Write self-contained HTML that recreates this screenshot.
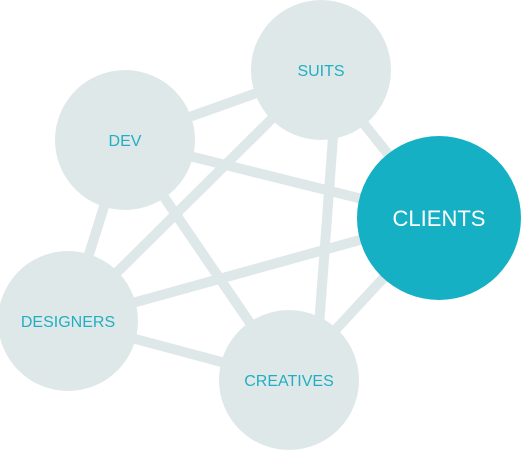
<!DOCTYPE html>
<html><head><style>
html,body{margin:0;padding:0;background:#fff;}
svg{display:block;}
text{font-family:"Liberation Sans",sans-serif;}
</style></head><body>
<svg width="521" height="451" viewBox="0 0 521 451" xmlns="http://www.w3.org/2000/svg">
<g stroke="#dfe8e8" stroke-width="10">
<line x1="321" y1="70" x2="125" y2="140"/>
<line x1="321" y1="70" x2="439" y2="218"/>
<line x1="321" y1="70" x2="68" y2="321"/>
<line x1="338" y1="70" x2="315" y2="380"/>
<line x1="125" y1="140" x2="439" y2="218"/>
<line x1="125" y1="140" x2="68" y2="321"/>
<line x1="125" y1="140" x2="289" y2="380"/>
<line x1="68" y1="321" x2="439" y2="218"/>
<line x1="68" y1="321" x2="289" y2="380"/>
<line x1="289" y1="380" x2="439" y2="218"/>
</g>
<g fill="#dfe8e8">
<circle cx="321" cy="70" r="70"/>
<circle cx="125" cy="140" r="70"/>
<circle cx="68" cy="321" r="70"/>
<circle cx="289" cy="380" r="70"/>
</g>
<circle cx="439" cy="218" r="82" fill="#15b0c4"/>
<g fill="#22aec2" font-size="16" text-anchor="middle">
<text x="321" y="76">SUITS</text>
<text x="125" y="146">DEV</text>
<text x="68" y="327">DESIGNERS</text>
<text x="289" y="386">CREATIVES</text>
</g>
<text x="439" y="226" fill="#fff" font-size="22" text-anchor="middle">CLIENTS</text>
</svg>
</body></html>
